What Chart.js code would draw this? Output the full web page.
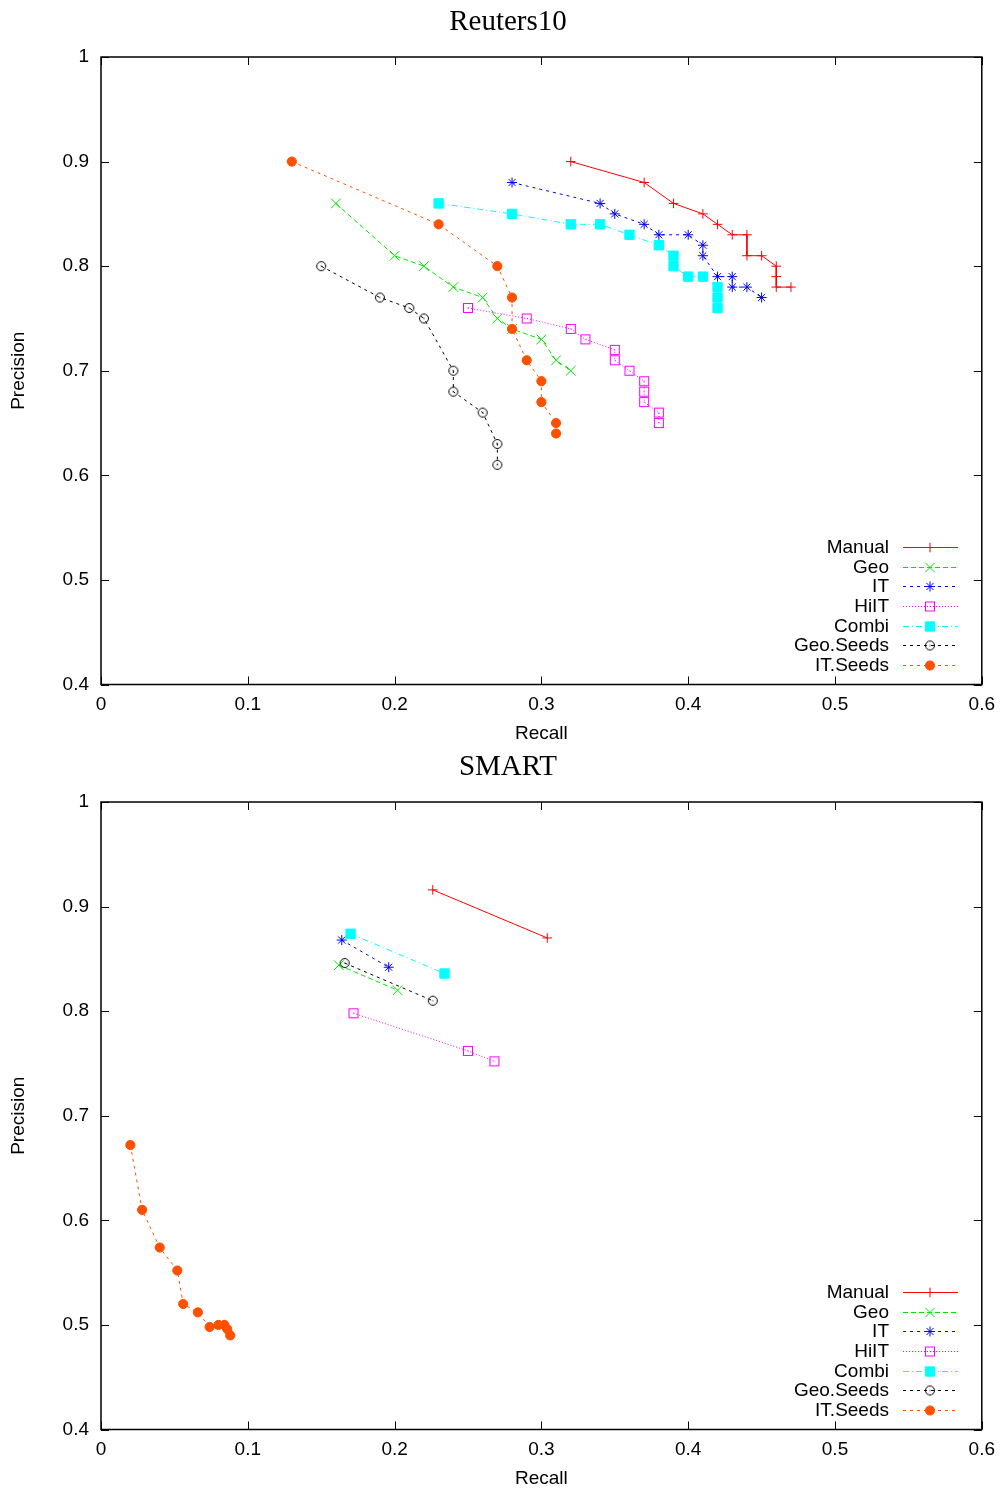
<!DOCTYPE html>
<html>
<head>
<meta charset="utf-8">
<script src="https://cdn.jsdelivr.net/npm/chart.js@4/dist/chart.umd.min.js"></script>
<style>
html,body{margin:0;padding:0;background:#fff;}
canvas{display:block;}
</style>
</head>
<body>
<canvas id="c1" width="1004" height="745"></canvas>
<canvas id="c2" width="1004" height="748"></canvas>
<script>
// ---------- DATA ----------
const seriesNames = ["Manual","Geo","IT","HiIT","Combi","Geo.Seeds","IT.Seeds"];
const xTicks = [0,0.1,0.2,0.3,0.4,0.5,0.6];
const yTicks = [0.4,0.5,0.6,0.7,0.8,0.9,1];

// Reuters10
const manualR_x = [0.32,0.37,0.39,0.41,0.42,0.43,0.44,0.44,0.45,0.46,0.46,0.46,0.47];
const manualR_y = [0.90,0.88,0.86,0.85,0.84,0.83,0.83,0.81,0.81,0.80,0.79,0.78,0.78];
const geoR_x = [0.16,0.20,0.22,0.24,0.26,0.27,0.28,0.30,0.31,0.32];
const geoR_y = [0.86,0.81,0.80,0.78,0.77,0.75,0.74,0.73,0.71,0.70];
const itR_x = [0.28,0.34,0.35,0.37,0.38,0.40,0.41,0.41,0.42,0.43,0.43,0.44,0.45];
const itR_y = [0.88,0.86,0.85,0.84,0.83,0.83,0.82,0.81,0.79,0.79,0.78,0.78,0.77];
const hiitR_x = [0.25,0.29,0.32,0.33,0.35,0.35,0.36,0.37,0.37,0.37,0.38,0.38];
const hiitR_y = [0.76,0.75,0.74,0.73,0.72,0.71,0.70,0.69,0.68,0.67,0.66,0.65];
const combiR_x = [0.23,0.28,0.32,0.34,0.36,0.38,0.39,0.39,0.40,0.41,0.42,0.42,0.42];
const combiR_y = [0.86,0.85,0.84,0.84,0.83,0.82,0.81,0.80,0.79,0.79,0.78,0.77,0.76];
const geoSeedsR_x = [0.15,0.19,0.21,0.22,0.24,0.24,0.26,0.27,0.27];
const geoSeedsR_y = [0.80,0.77,0.76,0.75,0.70,0.68,0.66,0.63,0.61];
const itSeedsR_x = [0.13,0.23,0.27,0.28,0.28,0.29,0.30,0.30,0.31,0.31];
const itSeedsR_y = [0.90,0.84,0.80,0.77,0.74,0.71,0.69,0.67,0.65,0.64];

// SMART
const manualS_x = [0.226,0.304];
const manualS_y = [0.916,0.870];
const geoS_x = [0.162,0.202];
const geoS_y = [0.844,0.820];
const itS_x = [0.164,0.196];
const itS_y = [0.868,0.842];
const hiitS_x = [0.172,0.250,0.268];
const hiitS_y = [0.798,0.762,0.752];
const combiS_x = [0.170,0.234];
const combiS_y = [0.874,0.836];
const geoSeedsS_x = [0.166,0.226];
const geoSeedsS_y = [0.846,0.810];
const itSeedsS_x = [0.020,0.028,0.040,0.052,0.056,0.066,0.074,0.080,0.084,0.086,0.088];
const itSeedsS_y = [0.672,0.610,0.574,0.552,0.520,0.512,0.498,0.500,0.500,0.496,0.490];

// ---------- STYLE ----------
const SANS = '"Liberation Sans", Arial, Helvetica, sans-serif';
const SERIF = '"Liberation Serif", "DejaVu Serif", serif';
const FS = 19;
const colors = ["#ff0000","#00e600","#0000ff","#ff00ff","#00ffff","#000000","#ff5000"];
const dashes = [[],[5,3],[3,4],[1,2],[6,3,1,3],[3,4],[3,4]];

function markerCanvas(kind, color){
  const c = document.createElement('canvas');
  c.width = 12; c.height = 12;
  const g = c.getContext('2d');
  g.strokeStyle = color; g.fillStyle = color; g.lineWidth = 1;
  if (kind === 'osq') {
    g.strokeRect(1.5,1.5,9,9);
    g.fillRect(5.5,5.5,1,1);
  } else {
    g.beginPath(); g.arc(6,6,4.5,0,Math.PI*2); g.stroke();
    g.fillRect(5.5,5.5,1,1);
  }
  return c;
}
const pointStyles = ['cross','crossRot','star',markerCanvas('osq','#ff00ff'),'rect',markerCanvas('oc','#000000'),'circle'];
const pointRadii = [4.8,6.8,5,5,6.6,5,4.6];
const pointFills = ["#ff0000","#00e600","#0000ff","rgba(0,0,0,0)","#00ffff","rgba(0,0,0,0)","#ff5000"];

const PLOT_TOP = 57, PLOT_LEFT = 101, RIGHT_PAD = 22, PLOT_H = 627.5;

function fmt(v){ return String(Math.round(v*10)/10); }

const framePlugin = {
  id:'frame',
  afterDatasetsDraw(chart){
    const {ctx, chartArea:a, scales:{x,y}} = chart;
    ctx.save();
    ctx.strokeStyle = '#000'; ctx.lineWidth = 1.5;
    ctx.strokeRect(a.left, a.top, a.right-a.left, a.bottom-a.top);
    ctx.lineWidth = 1;
    ctx.beginPath();
    const L = 8;
    xTicks.forEach(v=>{
      const px = Math.round(x.getPixelForValue(v))+0.5;
      ctx.moveTo(px,a.bottom); ctx.lineTo(px,a.bottom-L);
      ctx.moveTo(px,a.top); ctx.lineTo(px,a.top+L);
    });
    yTicks.forEach(v=>{
      const py = Math.round(y.getPixelForValue(v))+0.5;
      ctx.moveTo(a.left,py); ctx.lineTo(a.left+L,py);
      ctx.moveTo(a.right,py); ctx.lineTo(a.right-L,py);
    });
    ctx.stroke();
    ctx.restore();
  }
};

const titlePlugin = {
  id:'plotTitle',
  afterDraw(chart){
    const {ctx} = chart;
    ctx.save();
    ctx.font = '29px ' + SERIF;
    ctx.fillStyle = '#000';
    ctx.textAlign = 'center';
    ctx.textBaseline = 'middle';
    ctx.fillText(chart.options.plugins.plotTitle.text, 508, 22);
    ctx.restore();
  }
};

const keyPlugin = {
  id:'keyBox',
  afterDraw(chart){
    const {ctx, chartArea:a} = chart;
    ctx.save();
    ctx.font = FS + 'px ' + SANS;
    ctx.textAlign = 'right';
    ctx.textBaseline = 'middle';
    chart.data.datasets.forEach((ds,i)=>{
      const yy = Math.round(a.bottom - 137.5 + i*19.67) + 0.5;
      ctx.fillStyle = '#000';
      ctx.fillText(ds.label, 889, yy);
      ctx.strokeStyle = ds.borderColor; ctx.lineWidth = 1;
      ctx.setLineDash(ds.borderDash);
      ctx.beginPath(); ctx.moveTo(903, yy); ctx.lineTo(958, yy); ctx.stroke();
      ctx.setLineDash([]);
      ctx.fillStyle = ds.pointBackgroundColor;
      ctx.strokeStyle = ds.pointBorderColor;
      ctx.lineWidth = 1;
      Chart.helpers.drawPoint(ctx, { pointStyle: ds.pointStyle, radius: ds.pointRadius, rotation: 0, borderWidth: 1 }, 930, yy);
    });
    ctx.restore();
  }
};

function buildChart(id, title, xs, ys){
  const canvas = document.getElementById(id);
  const H = canvas.height;
  const datasets = seriesNames.map((name,i)=>({
    label: name,
    data: xs[i].map((v,k)=>({x:v, y:ys[i][k]})),
    showLine: true,
    borderColor: colors[i],
    backgroundColor: pointFills[i],
    borderWidth: 1,
    borderDash: dashes[i],
    pointStyle: pointStyles[i],
    pointRadius: pointRadii[i],
    pointHoverRadius: pointRadii[i],
    pointBorderColor: colors[i],
    pointBackgroundColor: pointFills[i],
    pointBorderWidth: 1,
    tension: 0,
    clip: false,
    order: seriesNames.length - i
  }));
  const lh = FS * 1.2;
  return new Chart(canvas, {
    type: 'scatter',
    data: { datasets },
    options: {
      responsive: false,
      animation: false,
      devicePixelRatio: 1,
      events: [],
      layout: { padding: { left:0, right: RIGHT_PAD, top: PLOT_TOP, bottom:0 } },
      plugins: {
        legend: { display:false },
        tooltip: { enabled:false },
        title: { display:false },
        plotTitle: { text: title }
      },
      scales: {
        x: {
          type:'linear', min:0, max:0.6,
          afterBuildTicks: s => { s.ticks = xTicks.map(v=>({value:v})); },
          afterFit: s => { s.height = H - (PLOT_TOP + PLOT_H); },
          grid: { display:false, drawTicks:false }, border: { display:false },
          ticks: { color:'#000', padding: 9, maxRotation:0, autoSkip:false,
                   font: { family: SANS, size: FS },
                   callback: v => fmt(v) },
          title: { display:true, text:'Recall', color:'#000',
                   font: { family: SANS, size: FS },
                   padding: { top:0, bottom: Math.max(0, H - 734 - lh/2) } }
        },
        y: {
          type:'linear', min:0.4, max:1,
          afterBuildTicks: s => { s.ticks = yTicks.map(v=>({value:v})); },
          afterFit: s => { s.width = PLOT_LEFT; },
          grid: { display:false, drawTicks:false }, border: { display:false },
          ticks: { color:'#000', padding: 12, autoSkip:false,
                   font: { family: SANS, size: FS },
                   callback: v => fmt(v) },
          title: { display:true, text:'Precision', color:'#000',
                   font: { family: SANS, size: FS },
                   padding: { top: 19 - lh/2, bottom: 0 } }
        }
      }
    },
    plugins: [framePlugin, titlePlugin, keyPlugin]
  });
}

buildChart('c1', 'Reuters10',
  [manualR_x, geoR_x, itR_x, hiitR_x, combiR_x, geoSeedsR_x, itSeedsR_x],
  [manualR_y, geoR_y, itR_y, hiitR_y, combiR_y, geoSeedsR_y, itSeedsR_y]);
buildChart('c2', 'SMART',
  [manualS_x, geoS_x, itS_x, hiitS_x, combiS_x, geoSeedsS_x, itSeedsS_x],
  [manualS_y, geoS_y, itS_y, hiitS_y, combiS_y, geoSeedsS_y, itSeedsS_y]);
</script>
</body>
</html>
